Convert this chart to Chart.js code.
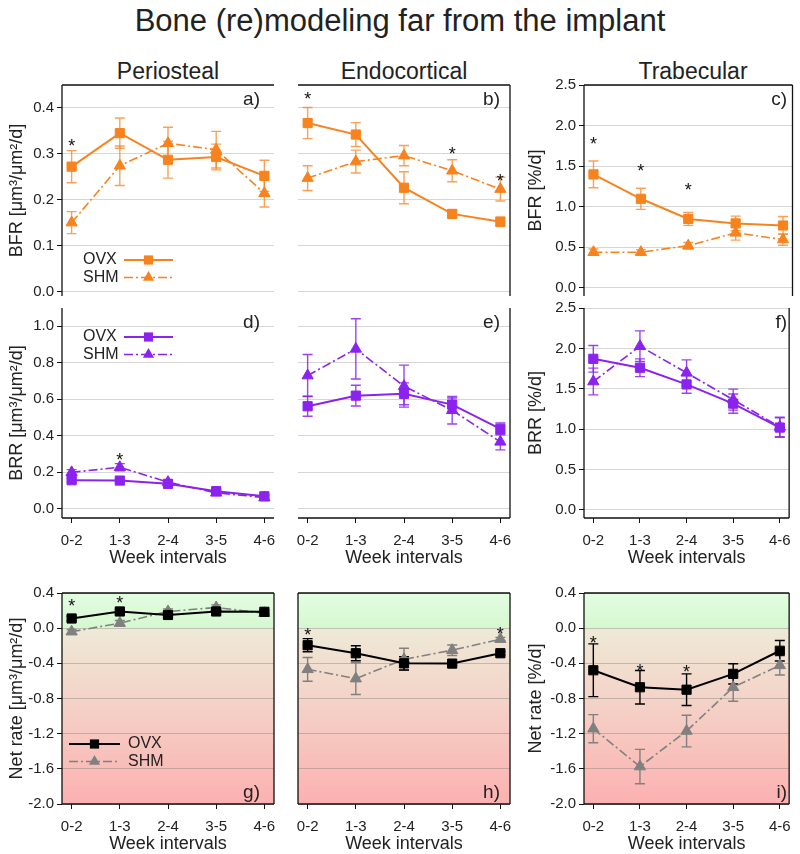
<!DOCTYPE html>
<html>
<head>
<meta charset="utf-8">
<script src="https://cdn.jsdelivr.net/npm/chart.js@4.4.1/dist/chart.umd.min.js"></script>
<style>
  body { margin: 0; background: #fff; width: 800px; height: 854px; position: relative; overflow: hidden; font-family: "Liberation Sans", Arial, sans-serif; color: #222; }
  canvas { position: absolute; left: 0; top: 0; }
  .t { position: absolute; white-space: nowrap; transform: translate(-50%, -50%); }
</style>
</head>
<body>
<div class="t" style="left:400px;top:21px;font-size:31px">Bone (re)modeling far from the implant</div>
<div class="t" style="left:168px;top:71px;font-size:23px">Periosteal</div>
<div class="t" style="left:404px;top:71px;font-size:23px">Endocortical</div>
<div class="t" style="left:693px;top:71px;font-size:23px">Trabecular</div>
<script>
const weeks = ["0-2", "1-3", "2-4", "3-5", "4-6"]

// tick labels
const bfrUmTicks = [0, 0.1, 0.2, 0.3, 0.4]
const pctTicks = [0, 0.5, 1.0, 1.5, 2.0, 2.5]
const brrUmTicks = [0, 0.2, 0.4, 0.6, 0.8, 1.0]
const netTicks = [-2.0, -1.6, -1.2, -0.8, -0.4, 0, 0.4]

// formation rate (BFR)
const periBfrOvx = [0.272, 0.345, 0.287, 0.293, 0.252]
const periBfrOvxErr = [0.035, 0.033, 0.04, 0.028, 0.034]
const periBfrShm = [0.150, 0.274, 0.323, 0.309, 0.214]
const periBfrShmErr = [0.024, 0.043, 0.035, 0.04, 0.03]
const periBfrStar = [0.326, null, null, null, null]

const endoBfrOvx = [0.367, 0.342, 0.226, 0.169, 0.152]
const endoBfrOvxErr = [0.034, 0.026, 0.035, 0.009, 0.01]
const endoBfrShm = [0.247, 0.283, 0.296, 0.263, 0.223]
const endoBfrShmErr = [0.027, 0.025, 0.022, 0.024, 0.026]
const endoBfrStar = [0.429, null, null, 0.309, 0.249]

const trabBfrOvx = [1.398, 1.098, 0.85, 0.794, 0.769]
const trabBfrOvxErr = [0.165, 0.13, 0.08, 0.09, 0.11]
const trabBfrShm = [0.44, 0.44, 0.52, 0.678, 0.596]
const trabBfrShmErr = [0.04, 0.03, 0.04, 0.09, 0.07]
const trabBfrStar = [1.82, 1.49, 1.26, null, null]

// resorption rate (BRR)
const periBrrOvx = [0.157, 0.155, 0.137, 0.097, 0.069]
const periBrrOvxErr = [0.012, 0.01, 0.01, 0.012, 0.01]
const periBrrShm = [0.20, 0.228, 0.146, 0.088, 0.062]
const periBrrShmErr = [0.015, 0.02, 0.012, 0.012, 0.01]
const periBrrStar = [null, 0.292, null, null, null]

const endoBrrOvx = [0.562, 0.62, 0.63, 0.571, 0.438]
const endoBrrOvxErr = [0.055, 0.057, 0.06, 0.036, 0.032]
const endoBrrShm = [0.73, 0.876, 0.672, 0.54, 0.367]
const endoBrrShmErr = [0.115, 0.165, 0.115, 0.075, 0.044]
const endoBrrStar = [null, null, null, null, null]

const trabBrrOvx = [1.871, 1.76, 1.554, 1.316, 1.02]
const trabBrrOvxErr = [0.165, 0.11, 0.11, 0.12, 0.12]
const trabBrrShm = [1.59, 2.027, 1.698, 1.365, 1.028]
const trabBrrShmErr = [0.165, 0.19, 0.16, 0.13, 0.12]
const trabBrrStar = [null, null, null, null, null]

// net rate
const periNetOvx = [0.11, 0.19, 0.15, 0.19, 0.186]
const periNetOvxErr = [0.025, 0.025, 0.03, 0.03, 0.02]
const periNetShm = [-0.04, 0.057, 0.19, 0.235, 0.17]
const periNetShmErr = [0.025, 0.03, 0.03, 0.03, 0.02]
const periNetStar = [0.303, 0.33, null, null, null]

const endoNetOvx = [-0.194, -0.285, -0.40, -0.403, -0.285]
const endoNetOvxErr = [0.075, 0.085, 0.075, 0.02, 0.02]
const endoNetShm = [-0.468, -0.574, -0.354, -0.251, -0.125]
const endoNetShmErr = [0.135, 0.18, 0.125, 0.06, 0.02]
const endoNetStar = [-0.03, null, null, null, -0.02]

const trabNetOvx = [-0.479, -0.672, -0.70, -0.52, -0.257]
const trabNetOvxErr = [0.3, 0.19, 0.18, 0.115, 0.117]
const trabNetShm = [-1.143, -1.574, -1.17, -0.672, -0.423]
const trabNetShmErr = [0.16, 0.195, 0.18, 0.16, 0.11]
const trabNetStar = [-0.12, -0.44, -0.45, null, null]

const FONT = "'Liberation Sans', Arial, sans-serif"
Chart.defaults.font.family = FONT
Chart.defaults.color = "#222"

const colors = {
  bfr: ["#f7831f", "#f7831f", "rgba(247,131,31,0.75)", "rgba(247,131,31,0.75)"],
  brr: ["#8b22ee", "#8b22ee", "rgba(139,34,238,0.85)", "rgba(139,34,238,0.85)"],
  net: ["#000000", "#808080", "#000000", "#808080"],
}

const cols = [{ l: 62, r: 274, ttl: 17, let: 260 }, { l: 298, r: 510, ttl: null, let: 500 }, { l: 584, r: 797, ttl: 536, let: 787 }]
const rows = [{ t: 85, b: 296 }, { t: 308, b: 518 }, { t: 593, b: 804 }]
const Y_W = 50 // room kept for y tick labels
const X_H = 32 // room kept for x tick labels

const panels = [
  { col: 0, row: 0, kind: "bfr", ovx: periBfrOvx, ovxErr: periBfrOvxErr, shm: periBfrShm, shmErr: periBfrShmErr, stars: periBfrStar, ticks: bfrUmTicks, min: -0.01, max: 0.45, title: "BFR [μm³/μm²/d]", letter: "a)", sides: ["top", "left"], legend: { x: 83, y: 260, textFirst: true } },
  { col: 1, row: 0, kind: "bfr", ovx: endoBfrOvx, ovxErr: endoBfrOvxErr, shm: endoBfrShm, shmErr: endoBfrShmErr, stars: endoBfrStar, ticks: bfrUmTicks, min: -0.01, max: 0.45, letter: "b)", sides: ["top", "right"] },
  { col: 2, row: 0, kind: "bfr", ovx: trabBfrOvx, ovxErr: trabBfrOvxErr, shm: trabBfrShm, shmErr: trabBfrShmErr, stars: trabBfrStar, ticks: pctTicks, min: -0.1, max: 2.5, title: "BFR [%/d]", letter: "c)", sides: ["top", "left", "right"] },
  { col: 0, row: 1, kind: "brr", ovx: periBrrOvx, ovxErr: periBrrOvxErr, shm: periBrrShm, shmErr: periBrrShmErr, stars: periBrrStar, ticks: brrUmTicks, min: -0.05, max: 1.1, title: "BRR [μm³/μm²/d]", letter: "d)", sides: ["left", "bottom"], legend: { x: 83, y: 337, textFirst: true } },
  { col: 1, row: 1, kind: "brr", ovx: endoBrrOvx, ovxErr: endoBrrOvxErr, shm: endoBrrShm, shmErr: endoBrrShmErr, stars: endoBrrStar, ticks: brrUmTicks, min: -0.05, max: 1.1, letter: "e)", sides: ["right", "bottom"] },
  { col: 2, row: 1, kind: "brr", ovx: trabBrrOvx, ovxErr: trabBrrOvxErr, shm: trabBrrShm, shmErr: trabBrrShmErr, stars: trabBrrStar, ticks: pctTicks, min: -0.1, max: 2.5, title: "BRR [%/d]", letter: "f)", sides: ["left", "bottom", "right"] },
  { col: 0, row: 2, kind: "net", ovx: periNetOvx, ovxErr: periNetOvxErr, shm: periNetShm, shmErr: periNetShmErr, stars: periNetStar, ticks: netTicks, min: -2.0, max: 0.4, title: "Net rate [μm³/μm²/d]", letter: "g)", sides: ["top", "left", "right", "bottom"], legend: { x: 69, y: 744, textFirst: false } },
  { col: 1, row: 2, kind: "net", ovx: endoNetOvx, ovxErr: endoNetOvxErr, shm: endoNetShm, shmErr: endoNetShmErr, stars: endoNetStar, ticks: netTicks, min: -2.0, max: 0.4, letter: "h)", sides: ["top", "left", "right", "bottom"] },
  { col: 2, row: 2, kind: "net", ovx: trabNetOvx, ovxErr: trabNetOvxErr, shm: trabNetShm, shmErr: trabNetShmErr, stars: trabNetStar, ticks: netTicks, min: -2.0, max: 0.4, title: "Net rate [%/d]", letter: "i)", sides: ["top", "left", "right", "bottom"] },
]

function drawMark(ctx, style, x, y, r) {
  ctx.beginPath()
  if (style === "rect") {
    const s = r * Math.SQRT1_2
    ctx.rect(x - s, y - s, 2 * s, 2 * s)
  } else {
    for (let k = 0; k < 3; k++) {
      const a = (k * 2 * Math.PI) / 3
      const px = x + Math.sin(a) * r
      const py = y - Math.cos(a) * r
      k ? ctx.lineTo(px, py) : ctx.moveTo(px, py)
    }
    ctx.closePath()
  }
  ctx.fill()
}

function panelPlugin(p) {
  const c = cols[p.col]
  return {
    id: "panel",
    beforeDraw(chart) {
      if (p.kind !== "net") return
      const { ctx, chartArea: a, scales: { y } } = chart
      const z = y.getPixelForValue(0)
      ctx.save()
      let g = ctx.createLinearGradient(0, a.top, 0, z)
      g.addColorStop(0, "#e3fde1")
      g.addColorStop(1, "#d5f8d0")
      ctx.fillStyle = g
      ctx.fillRect(a.left, a.top, a.width, z - a.top)
      g = ctx.createLinearGradient(0, z, 0, a.bottom)
      g.addColorStop(0, "#eeead7")
      g.addColorStop(1, "#fcb1b1")
      ctx.fillStyle = g
      ctx.fillRect(a.left, z, a.width, a.bottom - z)
      ctx.restore()
    },
    beforeDatasetsDraw(chart) {
      const { ctx, scales: { x, y } } = chart
      chart.data.datasets.slice().reverse().forEach(ds => {
        ctx.save()
        ctx.strokeStyle = ds.errColor
        ctx.lineWidth = 1.4
        ds.data.forEach((pt, j) => {
          const e = ds.errors[j]
          const px = x.getPixelForValue(pt.x)
          const t = y.getPixelForValue(pt.y + e)
          const b = y.getPixelForValue(pt.y - e)
          ctx.beginPath()
          ctx.moveTo(px, t); ctx.lineTo(px, b)
          ctx.moveTo(px - 5, t); ctx.lineTo(px + 5, t)
          ctx.moveTo(px - 5, b); ctx.lineTo(px + 5, b)
          ctx.stroke()
        })
        ctx.restore()
      })
    },
    afterDraw(chart) {
      const { ctx, chartArea: a, scales: { x, y } } = chart
      ctx.save()
      // frame
      ctx.strokeStyle = "#111"
      ctx.lineWidth = 1.3
      ctx.beginPath()
      if (p.sides.includes("top")) { ctx.moveTo(a.left, a.top); ctx.lineTo(a.right, a.top) }
      if (p.sides.includes("bottom")) { ctx.moveTo(a.left, a.bottom); ctx.lineTo(a.right, a.bottom) }
      if (p.sides.includes("left")) { ctx.moveTo(a.left, a.top); ctx.lineTo(a.left, a.bottom) }
      if (p.sides.includes("right")) { ctx.moveTo(a.right, a.top); ctx.lineTo(a.right, a.bottom) }
      ctx.stroke()

      // significance stars
      ctx.fillStyle = "#111"
      ctx.font = "18px " + FONT
      ctx.textAlign = "center"
      ctx.textBaseline = "alphabetic"
      p.stars.forEach((v, j) => {
        if (v === null) return
        ctx.fillText("*", x.getPixelForValue(j), y.getPixelForValue(v) + 10)
      })

      // panel letter
      ctx.fillStyle = "#222"
      ctx.font = "19px " + FONT
      ctx.textAlign = "right"
      ctx.textBaseline = "middle"
      ctx.fillText(p.letter, c.let, p.row === 2 ? a.bottom - 11 : a.top + 15)

      // axis titles
      ctx.font = "18px " + FONT
      ctx.textAlign = "center"
      if (p.title) {
        ctx.save()
        ctx.translate(c.ttl, (a.top + a.bottom) / 2)
        ctx.rotate(-Math.PI / 2)
        ctx.fillText(p.title, 0, 0)
        ctx.restore()
      }
      if (p.row > 0) ctx.fillText("Week intervals", (a.left + a.right) / 2, a.bottom + 40)

      // legend
      if (p.legend) {
        const L = p.legend
        chart.data.datasets.forEach((ds, k) => {
          const ly = L.y + k * 17.5
          const x0 = L.textFirst ? L.x + 41 : L.x
          const x1 = L.textFirst ? L.x + 90 : L.x + 51
          ctx.strokeStyle = ds.borderColor
          ctx.lineWidth = ds.borderWidth
          ctx.setLineDash(ds.borderDash || [])
          ctx.beginPath()
          ctx.moveTo(x0, ly); ctx.lineTo(x1, ly)
          ctx.stroke()
          ctx.setLineDash([])
          ctx.fillStyle = ds.backgroundColor
          drawMark(ctx, ds.pointStyle, (x0 + x1) / 2, ly, ds.pointRadius)
          ctx.fillStyle = "#222"
          ctx.font = "16px " + FONT
          ctx.textAlign = "left"
          ctx.fillText(ds.label, L.textFirst ? L.x : x1 + 8, ly)
        })
      }
      ctx.restore()
    },
  }
}

panels.forEach(p => {
  const cv = document.createElement("canvas")
  cv.width = 800
  cv.height = 854
  document.body.appendChild(cv)
  const c = cols[p.col]
  const r = rows[p.row]
  const col = colors[p.kind]
  const yTicks = p.col !== 1 // middle column shares the left column's scale, no labels
  const xAxis = p.row > 0
  const yw = yTicks ? Y_W : 0
  const xh = xAxis ? X_H : 0
  new Chart(cv, {
    type: "line",
    data: {
      datasets: [
        {
          label: "OVX",
          data: p.ovx.map((v, i) => ({ x: i, y: v })),
          errors: p.ovxErr,
          errColor: col[2],
          borderColor: col[0],
          backgroundColor: col[0],
          borderWidth: 2,
          pointStyle: "rect",
          pointRadius: 6.5,
          pointBorderWidth: 1,
          tension: 0,
        },
        {
          label: "SHM",
          data: p.shm.map((v, i) => ({ x: i, y: v })),
          errors: p.shmErr,
          errColor: col[3],
          borderColor: col[1],
          backgroundColor: col[1],
          borderWidth: 1.6,
          borderDash: [9, 3, 2, 3],
          pointStyle: "triangle",
          pointRadius: 6.5,
          pointBorderWidth: 1,
          tension: 0,
        },
      ],
    },
    options: {
      responsive: false,
      animation: false,
      devicePixelRatio: 1,
      events: [],
      layout: { padding: { left: c.l - yw, right: 800 - c.r, top: r.t, bottom: 854 - r.b - xh } },
      scales: {
        x: {
          type: "linear",
          min: -0.2,
          max: 4.2,
          display: xAxis,
          afterBuildTicks: s => { s.ticks = weeks.map((w, i) => ({ value: i })) },
          afterFit: s => { s.height = xh },
          border: { display: false },
          grid: { drawOnChartArea: false, drawTicks: true, tickLength: 5, tickColor: "#111" },
          ticks: { autoSkip: false, maxRotation: 0, padding: 9, font: { size: 15 }, callback: v => weeks[v] },
        },
        y: {
          min: p.min,
          max: p.max,
          afterBuildTicks: s => { s.ticks = p.ticks.map(v => ({ value: v })) },
          afterFit: s => { s.width = yw },
          border: { display: false },
          grid: {
            color: p.kind === "net" ? "rgba(110,110,110,0.35)" : "#d6d6d6",
            lineWidth: 1,
            drawTicks: yTicks,
            tickLength: 5,
            tickColor: "#111",
          },
          ticks: { display: yTicks, padding: 3, font: { size: 15 }, callback: v => v.toFixed(1) },
        },
      },
      plugins: { legend: { display: false }, tooltip: { enabled: false } },
    },
    plugins: [panelPlugin(p)],
  })
})
</script>
</body>
</html>
